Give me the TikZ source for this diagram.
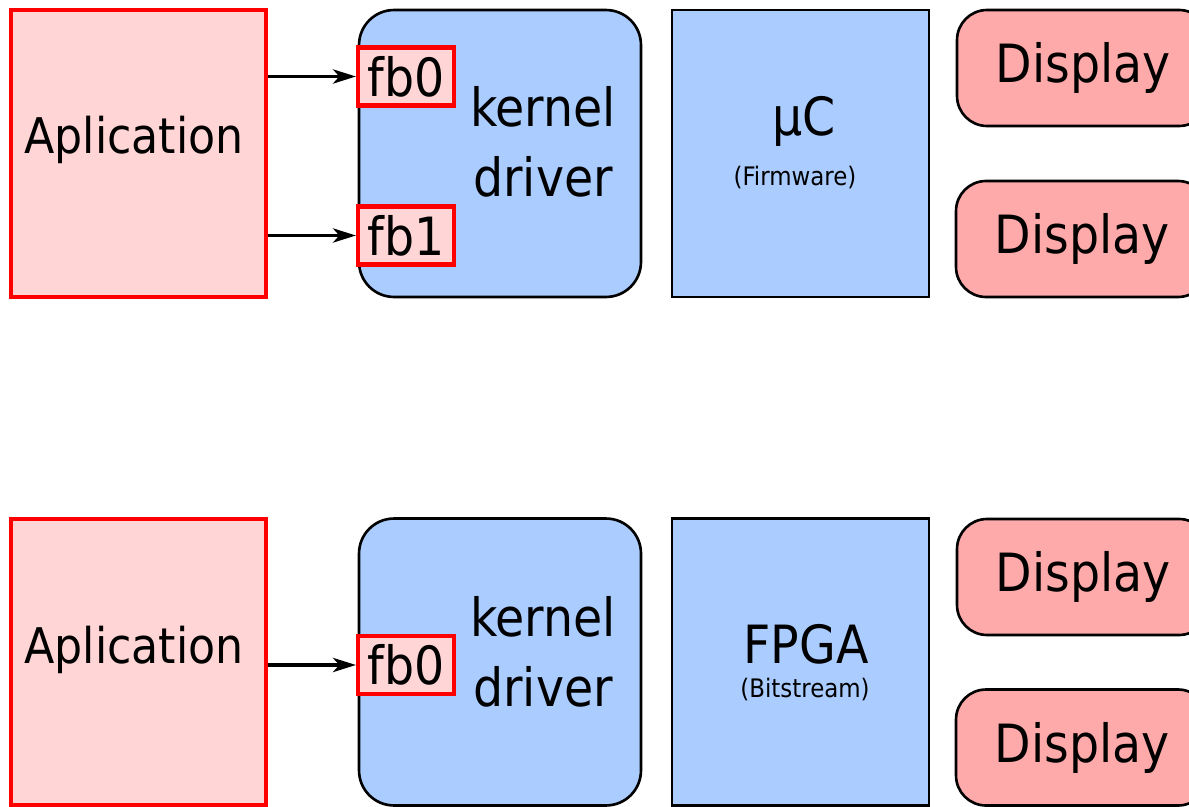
\documentclass[tikz,border=0pt]{standalone}
\usepackage{fontspec}
\setmainfont{DejaVu Sans Condensed}
\usetikzlibrary{arrows.meta}
\definecolor{apppink}{HTML}{FFD5D5}
\definecolor{drvblue}{HTML}{AACCFF}
\definecolor{disppink}{HTML}{FFAAAA}

\begin{document}
\begin{tikzpicture}[x=0.02cm, y=-0.02cm,
  bigfont/.style={font=\fontsize{30}{40}\selectfont},
  smallfont/.style={font=\fontsize{14.5}{18}\selectfont},
  appbox/.style={draw=red, line width=2.3pt, fill=apppink,
    minimum width=5.1cm, minimum height=5.74cm, inner sep=0pt},
  drvbox/.style={draw=black, line width=1.5pt, fill=drvblue,
    rounded corners=0.7cm, minimum width=5.64cm, minimum height=5.74cm},
  chipbox/.style={draw=black, line width=1.5pt, fill=drvblue,
    minimum width=5.14cm, minimum height=5.74cm},
  dispbox/.style={draw=black, line width=1.5pt, fill=disppink, bigfont,
    rounded corners=0.6cm, minimum width=5.04cm, minimum height=2.32cm},
  fbbox/.style={draw=red, line width=2.3pt, fill=apppink, bigfont, inner sep=0pt,
    minimum width=1.92cm, minimum height=1.16cm},
  arr/.style={-{Stealth[length=13pt, width=8pt, inset=3.5pt]}, line width=2.2pt}]
  \useasboundingbox (0,0) rectangle (1189,807);
  \clip (0,0) rectangle (1189,807);

  % top row: microcontroller
  \node[appbox] (app1) at (138.5,153.5) {};
  \node[font=\fontsize{28}{36}\selectfont] (appTxt1) at (134,140) {Aplication};
  \node[drvbox] (drv1) at (500,153.5) {};
  \node[bigfont, align=center] (drvTxt1) at (543,142) {kernel\\driver};
  \node[fbbox] (fbA) at (406,76.5) {fb0};
  \node[fbbox] (fbB) at (406,235.5) {fb1};
  \node[chipbox] (mc) at (800.5,153.5) {};
  \node[bigfont] (mcTxt) at (804,121) {µC};
  \node[smallfont] (mcSub) at (795,177.5) {(Firmware)};
  \node[dispbox] (disp1) at (1083,68) {Display};
  \node[dispbox] (disp2) at (1082,239) {Display};
  \draw[arr] (app1.east |- fbA.west) -- (fbA.west);
  \draw[arr] (app1.east |- fbB.west) -- (fbB.west);

  % bottom row: fpga
  \node[appbox] (app2) at (138.5,662) {};
  \node[font=\fontsize{28}{36}\selectfont] (appTxt2) at (134,650) {Aplication};
  \node[drvbox] (drv2) at (500,662) {};
  \node[bigfont, align=center] (drvTxt2) at (543,652) {kernel\\driver};
  \node[fbbox] (fbC) at (406,665) {fb0};
  \node[chipbox] (fpga) at (800.5,662) {};
  \node[bigfont] (fpgaTxt) at (806,644) {FPGA};
  \node[smallfont] (fpgaSub) at (805,689) {(Bitstream)};
  \node[dispbox] (disp3) at (1083,577) {Display};
  \node[dispbox] (disp4) at (1082,747.5) {Display};
  \draw[arr] (app2.east |- fbC.west) -- (fbC.west);
\end{tikzpicture}
\end{document}
